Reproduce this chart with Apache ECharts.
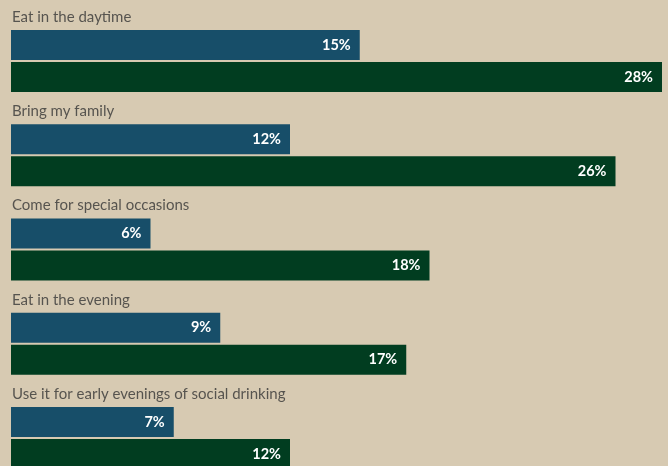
<!DOCTYPE html>
<html>
<head>
<meta charset="utf-8">
<script src="https://cdn.jsdelivr.net/npm/echarts@6/dist/echarts.min.js"></script>
<style>
html,body{margin:0;padding:0;width:668px;height:466px;overflow:hidden;background:#d7cab2;}
#chart{width:668px;height:490px;}
</style>
</head>
<body>
<div id="chart"></div>
<script>
const categories = ["Eat in the daytime", "Bring my family", "Come for special occasions", "Eat in the evening", "Use it for early evenings of social drinking"];
const seriesA = [15, 12, 6, 9, 7];
const seriesB = [28, 26, 18, 17, 12];

const chart = echarts.init(document.getElementById('chart'), null, {renderer: 'canvas'});
const valueLabel = {
  show: true,
  position: 'insideRight',
  distance: 9,
  color: '#ffffff',
  fontFamily: 'Lato',
  fontWeight: 'bold',
  fontSize: 14.5,
  formatter: p => p.value + '%'
};
chart.setOption({
  backgroundColor: '#d7cab2',
  animation: false,
  grid: {left: 11, top: 13.875, width: 651, height: 471.25, containLabel: false},
  xAxis: {type: 'value', min: 0, max: 28, show: false},
  yAxis: {
    type: 'category',
    data: categories,
    inverse: true,
    axisLine: {show: false},
    axisTick: {show: false},
    splitLine: {show: false},
    axisLabel: {show: false}
  },
  series: [
    {type: 'bar', data: seriesA, barWidth: 30, barGap: '6.67%', itemStyle: {color: '#174e69'}, label: valueLabel},
    {type: 'bar', data: seriesB, barWidth: 30, itemStyle: {color: '#013d20'}, label: valueLabel},
    {
      type: 'scatter',
      data: categories.map(c => [0, c]),
      symbolSize: 0,
      silent: true,
      label: {
        show: true,
        position: 'right',
        distance: 1,
        offset: [0, -44],
        color: '#363636',
        fontFamily: 'Lato',
        fontSize: 15,
        formatter: p => p.value[1]
      }
    }
  ]
});
</script>
</body>
</html>
